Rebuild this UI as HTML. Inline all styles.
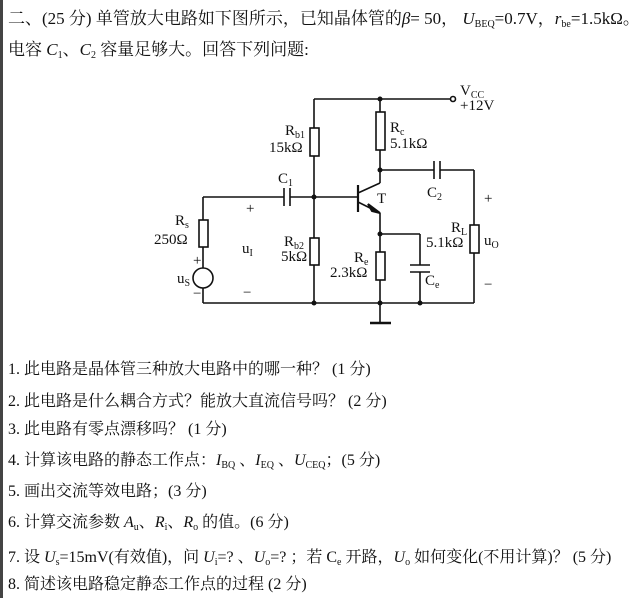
<!DOCTYPE html>
<html><head><meta charset="utf-8"><style>
html,body{margin:0;padding:0;background:#fff;}
body{width:633px;height:598px;overflow:hidden;position:relative;font-family:"Liberation Serif","Noto Serif CJK SC","Noto Sans CJK SC",serif;color:#111;}
.t{position:absolute;left:8px;white-space:nowrap;font-size:16px;line-height:20px;}
i{font-style:italic;}
sub{font-size:10px;vertical-align:-3px;line-height:0;}
</style></head><body>
<div style="position:absolute;left:0;top:0;width:3px;height:598px;background:#444"></div>
<div class="t" style="top:9px;font-size:17px;">二、(25 分) 单管放大电路如下图所示，已知晶体管的<i>β</i>= 50， <i>U</i><sub>BEQ</sub>=0.7V，<i>r</i><sub>be</sub>=1.5kΩ。</div>
<div class="t" style="top:40px;font-size:17px;">电容 <i>C</i><sub>1</sub>、<i>C</i><sub>2</sub> 容量足够大。回答下列问题:</div>

<svg width="633" height="598" style="position:absolute;left:0;top:0" font-family="Liberation Serif, serif" font-size="15" fill="#111">
<g stroke="#111" stroke-width="1.6" fill="none">
<line x1="314" y1="99" x2="450" y2="99"/>
<circle cx="453" cy="99" r="2.5" fill="#fff"/>
<line x1="314" y1="99" x2="314" y2="128"/><rect x="310" y="128" width="9" height="28"/><line x1="314" y1="156" x2="314" y2="238"/>
<rect x="310" y="238" width="9" height="27"/><line x1="314" y1="265" x2="314" y2="303"/>
<line x1="380" y1="99" x2="380" y2="112"/><rect x="376" y="112" width="9" height="38"/><line x1="380" y1="150" x2="380" y2="183"/>
<line x1="380" y1="183" x2="358" y2="193"/>
<line x1="358" y1="202" x2="380" y2="213"/><line x1="380" y1="213" x2="380" y2="252"/>
<rect x="376" y="252" width="9" height="28"/><line x1="380" y1="280" x2="380" y2="323"/>
<line x1="370" y1="323" x2="391" y2="323" stroke-width="2.5"/>
<line x1="358" y1="185" x2="358" y2="212" stroke-width="2.2"/>
<line x1="203" y1="197" x2="284" y2="197"/><line x1="290" y1="197" x2="358" y2="197"/>
<line x1="284" y1="188" x2="284" y2="206"/><line x1="290" y1="188" x2="290" y2="206"/>
<line x1="380" y1="170" x2="434" y2="170"/><line x1="440" y1="170" x2="474" y2="170"/>
<line x1="434" y1="161" x2="434" y2="179"/><line x1="440" y1="161" x2="440" y2="179"/>
<line x1="474" y1="170" x2="474" y2="225"/><rect x="470" y="225" width="9" height="28"/><line x1="474" y1="253" x2="474" y2="303"/>
<line x1="380" y1="234" x2="420" y2="234"/><line x1="420" y1="234" x2="420" y2="265"/>
<line x1="410" y1="265" x2="430" y2="265"/><line x1="410" y1="272" x2="430" y2="272"/><line x1="420" y1="272" x2="420" y2="303"/>
<line x1="203" y1="197" x2="203" y2="220"/><rect x="199" y="220" width="9" height="27"/><line x1="203" y1="247" x2="203" y2="268"/>
<circle cx="203" cy="278" r="10"/><line x1="203" y1="288" x2="203" y2="303"/>
<line x1="203" y1="303" x2="474" y2="303"/>
</g>
<polygon points="380,213 368,204 372,211" fill="#111" stroke="#111" stroke-width="2"/>
<g fill="#111">
<circle cx="314" cy="197" r="2.5"/><circle cx="380" cy="99" r="2.5"/><circle cx="380" cy="170" r="2.5"/>
<circle cx="380" cy="234" r="2.5"/><circle cx="314" cy="303" r="2.5"/><circle cx="380" cy="303" r="2.5"/><circle cx="420" cy="303" r="2.5"/>
</g>
<text x="460" y="95">V<tspan font-size="10" dy="3">CC</tspan></text>
<text x="460" y="110">+12V</text>
<text x="285" y="135">R<tspan font-size="10" dy="3">b1</tspan></text>
<text x="269" y="152">15kΩ</text>
<text x="390" y="132">R<tspan font-size="10" dy="3">c</tspan></text>
<text x="390" y="148">5.1kΩ</text>
<text x="278" y="183">C<tspan font-size="10" dy="3">1</tspan></text>
<text x="427" y="197">C<tspan font-size="10" dy="3">2</tspan></text>
<text x="377" y="203">T</text>
<text x="246" y="213">+</text>
<text x="484" y="203">+</text>
<text x="175" y="225">R<tspan font-size="10" dy="3">s</tspan></text>
<text x="154" y="244">250Ω</text>
<text x="242" y="253">u<tspan font-size="10" dy="3">I</tspan></text>
<text x="284" y="246">R<tspan font-size="10" dy="3">b2</tspan></text>
<text x="281" y="261">5kΩ</text>
<text x="451" y="232">R<tspan font-size="10" dy="3">L</tspan></text>
<text x="426" y="247">5.1kΩ</text>
<text x="484" y="245">u<tspan font-size="10" dy="3">O</tspan></text>
<text x="354" y="262">R<tspan font-size="10" dy="3">e</tspan></text>
<text x="330" y="277">2.3kΩ</text>
<text x="425" y="285">C<tspan font-size="10" dy="3">e</tspan></text>
<text x="193" y="265">+</text>
<text x="177" y="283">u<tspan font-size="10" dy="3">S</tspan></text>
<text x="193" y="298">−</text>
<text x="243" y="297">−</text>
<text x="484" y="289">−</text>
</svg>

<div class="t" style="top:360px;">1. 此电路是晶体管三种放大电路中的哪一种？ (1 分)</div>
<div class="t" style="top:392px;">2. 此电路是什么耦合方式？能放大直流信号吗？ (2 分)</div>
<div class="t" style="top:420px;">3. 此电路有零点漂移吗？ (1 分)</div>
<div class="t" style="top:451px;">4. 计算该电路的静态工作点：<i>I</i><sub>BQ</sub> 、<i>I</i><sub>EQ</sub> 、<i>U</i><sub>CEQ</sub>；(5 分)</div>
<div class="t" style="top:482px;">5. 画出交流等效电路；(3 分)</div>
<div class="t" style="top:513px;">6. 计算交流参数 <i>A</i><sub>u</sub>、<i>R</i><sub>i</sub>、<i>R</i><sub>o</sub> 的值。(6 分)</div>
<div class="t" style="top:548px;">7. 设 <i>U</i><sub>s</sub>=15mV(有效值)，问 <i>U</i><sub>i</sub>=? 、<i>U</i><sub>o</sub>=? ；若 C<sub>e</sub> 开路，<i>U</i><sub>o</sub> 如何变化(不用计算)？ (5 分)</div>
<div class="t" style="top:575px;">8. 简述该电路稳定静态工作点的过程 (2 分)</div>
</body></html>
